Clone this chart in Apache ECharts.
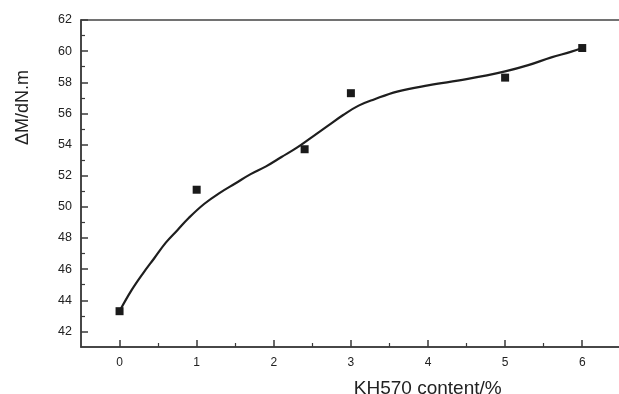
<!DOCTYPE html>
<html>
<head>
<meta charset="utf-8">
<script src="https://cdn.jsdelivr.net/npm/echarts@6/dist/echarts.min.js"></script>
<style>
  html, body { margin: 0; padding: 0; background: #fff; }
  #chart { width: 619px; height: 394px; }
</style>
</head>
<body>
<div id="chart"></div>
<script>
// Measured torque difference vs. silane coupling agent content
const kh570Content = [0, 1, 2.4, 3, 5, 6];
const deltaM = [43.3, 51.1, 53.7, 57.3, 58.3, 60.2];

// Fitted trend curve through the measurements
const fitX = [0, 0.15, 0.3, 0.45, 0.6, 0.75, 0.9, 1.1, 1.3, 1.5, 1.7, 1.9, 2.1, 2.3, 2.5, 2.7, 2.9, 3.1, 3.3, 3.6, 4.0, 4.5, 5.0, 5.3, 5.6, 5.85, 6.0];
const fitY = [43.3, 44.6, 45.7, 46.7, 47.7, 48.5, 49.3, 50.2, 50.9, 51.5, 52.1, 52.6, 53.2, 53.8, 54.5, 55.2, 55.9, 56.5, 56.9, 57.4, 57.8, 58.2, 58.7, 59.1, 59.6, 59.95, 60.2];

// Tick positions
const xMajorTicks = [0, 1, 2, 3, 4, 5, 6];
const xMinorTicks = [0.5, 1.5, 2.5, 3.5, 4.5, 5.5, 6.5];
const yMajorTicks = [42, 44, 46, 48, 50, 52, 54, 56, 58, 60, 62];
const yMinorTicks = [43, 45, 47, 49, 51, 53, 55, 57, 59, 61];

const FONT = '"Liberation Sans", Arial, sans-serif';
const INK = '#222';
const AXIS = '#3a3a3a';

const chart = echarts.init(document.getElementById('chart'), null, { renderer: 'canvas' });

const xRange = { min: -0.5, max: 6.6 };
const yRange = { min: 41, max: 62 };

chart.setOption({
  animation: false,
  backgroundColor: '#fff',
  grid: {
    left: 81, top: 20, right: -9.5, bottom: 47,
    containLabel: false,
    outerBoundsMode: 'none',
    show: true, borderColor: '#444', borderWidth: 1.5, backgroundColor: 'transparent'
  },
  xAxis: [
    {
      type: 'value', ...xRange,
      name: 'KH570 content/%',
      nameLocation: 'middle', nameGap: 32,
      nameTextStyle: { fontFamily: FONT, fontSize: 19, color: INK, padding: [0, 0, 0, 146] },
      axisLine: { show: true, onZero: false, lineStyle: { color: AXIS, width: 1.5 } },
      axisTick: { show: true, inside: true, length: 7, customValues: xMajorTicks, lineStyle: { color: AXIS, width: 1.5 } },
      axisLabel: { show: true, customValues: xMajorTicks, margin: 10, fontFamily: FONT, fontSize: 12, color: INK },
      splitLine: { show: false }
    },
    {
      type: 'value', ...xRange, position: 'bottom',
      axisLine: { show: false, onZero: false },
      axisTick: { show: true, inside: true, length: 4, customValues: xMinorTicks, lineStyle: { color: AXIS, width: 1.2 } },
      axisLabel: { show: false },
      splitLine: { show: false }
    }
  ],
  yAxis: [
    {
      type: 'value', ...yRange,
      name: 'ΔM/dN.m',
      nameLocation: 'middle', nameGap: 49, nameRotate: 90,
      nameTextStyle: { fontFamily: FONT, fontSize: 18, color: INK, padding: [0, 0, 0, 152] },
      axisLine: { show: true, onZero: false, lineStyle: { color: AXIS, width: 1.5 } },
      axisTick: { show: true, inside: true, length: 7, customValues: yMajorTicks, lineStyle: { color: AXIS, width: 1.5 } },
      axisLabel: { show: true, customValues: yMajorTicks, margin: 9, fontFamily: FONT, fontSize: 12.5, color: INK },
      splitLine: { show: false }
    },
    {
      type: 'value', ...yRange, position: 'left',
      axisLine: { show: false, onZero: false },
      axisTick: { show: true, inside: true, length: 4, customValues: yMinorTicks, lineStyle: { color: AXIS, width: 1.2 } },
      axisLabel: { show: false },
      splitLine: { show: false }
    }
  ],
  series: [
    {
      type: 'line',
      data: fitX.map((x, i) => [x, fitY[i]]),
      smooth: 0.4,
      showSymbol: false,
      symbol: 'none',
      lineStyle: { color: '#1e1e1e', width: 2.2 },
      z: 2
    },
    {
      type: 'scatter',
      data: kh570Content.map((x, i) => [x, deltaM[i]]),
      symbol: 'rect',
      symbolSize: 8,
      itemStyle: { color: '#1a1a1a', opacity: 1 },
      z: 3
    }
  ]
});
</script>
</body>
</html>
